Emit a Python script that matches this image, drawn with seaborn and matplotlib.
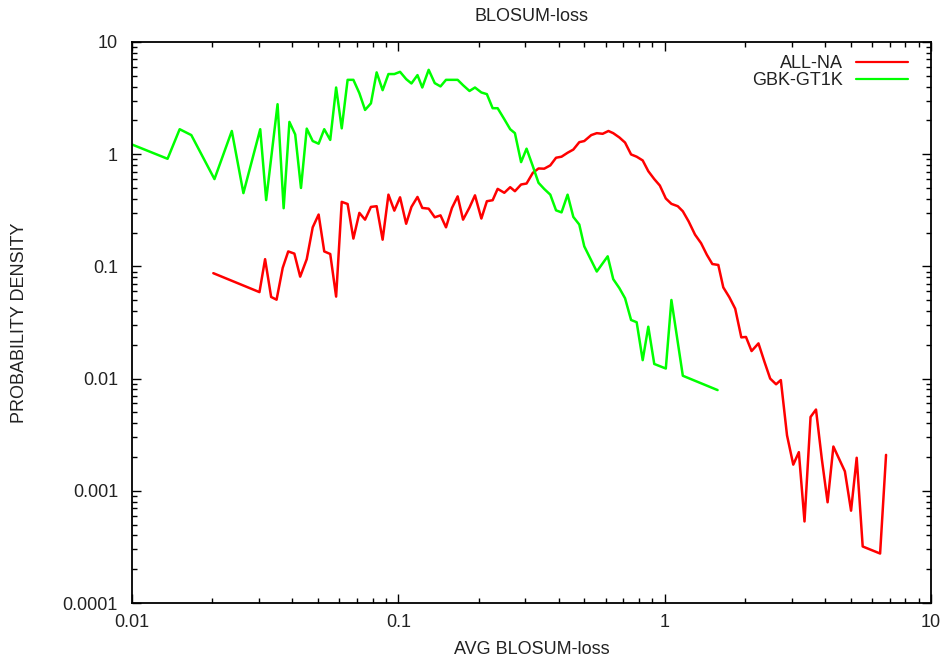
import matplotlib
matplotlib.use("Agg")
import matplotlib.pyplot as plt
import matplotlib.ticker as mticker
import numpy as np
import pandas as pd
import seaborn as sns

# ALL-NA series: average BLOSUM loss vs. probability density
all_na_x = [0.0202, 0.0301, 0.0316, 0.0333, 0.0349, 0.0368, 0.0386, 0.0407, 0.0428, 0.0453,
            0.0477, 0.0502, 0.0527, 0.0555, 0.0584, 0.0613, 0.0645, 0.0678, 0.0714, 0.0750,
            0.0789, 0.0829, 0.0873, 0.0918, 0.0966, 0.1015, 0.107, 0.112, 0.118, 0.123,
            0.130, 0.137, 0.144, 0.151, 0.159, 0.167, 0.175, 0.185, 0.194, 0.205,
            0.215, 0.226, 0.236, 0.250, 0.263, 0.274, 0.289, 0.303, 0.320, 0.336,
            0.353, 0.372, 0.391, 0.410, 0.432, 0.454, 0.478, 0.499, 0.530, 0.556,
            0.585, 0.615, 0.641, 0.676, 0.710, 0.748, 0.785, 0.827, 0.868, 0.914,
            0.959, 1.01, 1.06, 1.12, 1.17, 1.23, 1.30, 1.37, 1.44, 1.51,
            1.59, 1.66, 1.75, 1.84, 1.94, 2.02, 2.12, 2.25, 2.37, 2.49,
            2.62, 2.73, 2.88, 3.04, 3.19, 3.35, 3.53, 3.70, 3.89, 4.09,
            4.30, 4.75, 5.01, 5.26, 5.54, 6.44, 6.78]
all_na_y = [0.087, 0.059, 0.116, 0.0534, 0.0505, 0.097, 0.136, 0.130, 0.081, 0.116,
            0.223, 0.290, 0.136, 0.129, 0.0538, 0.376, 0.360, 0.177, 0.300, 0.261,
            0.339, 0.344, 0.173, 0.436, 0.314, 0.413, 0.240, 0.339, 0.416, 0.332,
            0.327, 0.274, 0.285, 0.223, 0.332, 0.421, 0.261, 0.335, 0.430, 0.267,
            0.381, 0.389, 0.491, 0.453, 0.508, 0.468, 0.537, 0.548, 0.683, 0.746,
            0.743, 0.795, 0.93, 0.95, 1.03, 1.10, 1.28, 1.31, 1.48, 1.54,
            1.52, 1.61, 1.54, 1.41, 1.27, 0.995, 0.95, 0.88, 0.706, 0.60,
            0.526, 0.403, 0.361, 0.344, 0.310, 0.252, 0.192, 0.161, 0.127, 0.105,
            0.103, 0.065, 0.053, 0.042, 0.0233, 0.0235, 0.0176, 0.0206, 0.0141, 0.0100,
            0.0089, 0.0097, 0.00312, 0.00171, 0.00221, 0.000533, 0.00455, 0.00530, 0.00193, 0.00079,
            0.00248, 0.00149, 0.000665, 0.00197, 0.000319, 0.000276, 0.00209]

# GBK-GT1K series
gbk_x = [0.0100, 0.0136, 0.0151, 0.0167, 0.0204, 0.0237, 0.0262, 0.0303, 0.0319, 0.0352,
         0.0371, 0.0390, 0.0410, 0.0431, 0.0453, 0.0477, 0.0502, 0.0527, 0.0555, 0.0584,
         0.0613, 0.0645, 0.0678, 0.0714, 0.0750, 0.0789, 0.0829, 0.0873, 0.0918, 0.0966,
         0.1015, 0.107, 0.112, 0.118, 0.123, 0.130, 0.137, 0.144, 0.151, 0.159,
         0.167, 0.175, 0.185, 0.194, 0.205, 0.215, 0.226, 0.236, 0.250, 0.263,
         0.274, 0.289, 0.303, 0.320, 0.336, 0.353, 0.372, 0.391, 0.410, 0.432,
         0.454, 0.478, 0.499, 0.556, 0.611, 0.641, 0.676, 0.710, 0.748, 0.785,
         0.827, 0.868, 0.914, 1.01, 1.06, 1.17, 1.58]
gbk_y = [1.22, 0.91, 1.67, 1.48, 0.60, 1.61, 0.45, 1.67, 0.39, 2.79,
         0.33, 1.94, 1.50, 0.50, 1.69, 1.31, 1.24, 1.67, 1.34, 3.93,
         1.70, 4.60, 4.60, 3.50, 2.48, 2.84, 5.36, 3.72, 5.18, 5.18,
         5.42, 4.67, 4.27, 5.07, 3.93, 5.65, 4.30, 4.02, 4.60, 4.60,
         4.60, 4.12, 3.66, 3.93, 3.55, 3.43, 2.57, 2.57, 2.05, 1.67,
         1.54, 0.85, 1.12, 0.78, 0.556, 0.49, 0.436, 0.316, 0.303, 0.436,
         0.276, 0.236, 0.151, 0.090, 0.123, 0.077, 0.064, 0.052, 0.0333, 0.0318,
         0.0146, 0.029, 0.0135, 0.0123, 0.0502, 0.0106, 0.0079]

series_names = ["ALL-NA", "GBK-GT1K"]
series_colors = ["#ff0000", "#00ff00"]

x_ticks = [0.01, 0.1, 1, 10]
x_tick_labels = ["0.01", "0.1", "1", "10"]
y_ticks = [0.0001, 0.001, 0.01, 0.1, 1, 10]
y_tick_labels = ["0.0001", "0.001", "0.01", "0.1", "1", "10"]

df = pd.concat([
    pd.DataFrame({"x": all_na_x, "y": all_na_y, "series": series_names[0]}),
    pd.DataFrame({"x": gbk_x, "y": gbk_y, "series": series_names[1]}),
], ignore_index=True)

sns.set_style("ticks")
plt.rcParams["font.family"] = ["Liberation Sans", "DejaVu Sans"]

fig = plt.figure(figsize=(9.47, 6.63), dpi=100)
ax = fig.add_axes([132 / 947, 1 - 603 / 663, (931 - 132) / 947, (603 - 42) / 663])

sns.lineplot(data=df, x="x", y="y", hue="series", hue_order=series_names,
             palette=series_colors, estimator=None, sort=False, linewidth=1.8, ax=ax)

ax.set_xscale("log")
ax.set_yscale("log")
ax.set_xlim(0.01, 10)
ax.set_ylim(0.0001, 10)

ax.xaxis.set_major_locator(mticker.FixedLocator(x_ticks))
ax.xaxis.set_major_formatter(mticker.FixedFormatter(x_tick_labels))
ax.yaxis.set_major_locator(mticker.FixedLocator(y_ticks))
ax.yaxis.set_major_formatter(mticker.FixedFormatter(y_tick_labels))
ax.xaxis.set_minor_locator(mticker.LogLocator(base=10, subs=np.arange(2, 10)))
ax.yaxis.set_minor_locator(mticker.LogLocator(base=10, subs=np.arange(2, 10)))
ax.xaxis.set_minor_formatter(mticker.NullFormatter())
ax.yaxis.set_minor_formatter(mticker.NullFormatter())

ax.tick_params(which="both", direction="in", top=True, right=True, color="black",
               labelcolor="#222222", labelsize=13)
ax.tick_params(which="major", length=6.5, width=1.0)
ax.tick_params(which="minor", length=3.5, width=1.0)
ax.tick_params(axis="x", which="major", pad=8)
ax.tick_params(axis="y", which="major", pad=10)
for sp in ax.spines.values():
    sp.set_visible(True)
    sp.set_linewidth(1.3)
    sp.set_color("black")

ax.set_title("BLOSUM-loss", fontsize=13, pad=15, color="#222222")
ax.set_xlabel("AVG BLOSUM-loss", fontsize=13, color="#222222")
ax.set_ylabel("PROBABILITY DENSITY", fontsize=13, color="#222222")
ax.xaxis.set_label_coords(0.5, -0.068)
ax.yaxis.set_label_coords(-0.130, 0.5)

leg = ax.legend(loc="upper right", bbox_to_anchor=(0.9715, 0.977), frameon=False,
                markerfirst=False, fontsize=13, handlelength=2.9, handletextpad=0.7,
                labelspacing=0.02, borderpad=0, borderaxespad=0)
for t in leg.get_texts():
    t.set_color("#222222")
for h in leg.get_lines():
    h.set_linewidth(1.6)

fig.savefig("out.png", dpi=100)
